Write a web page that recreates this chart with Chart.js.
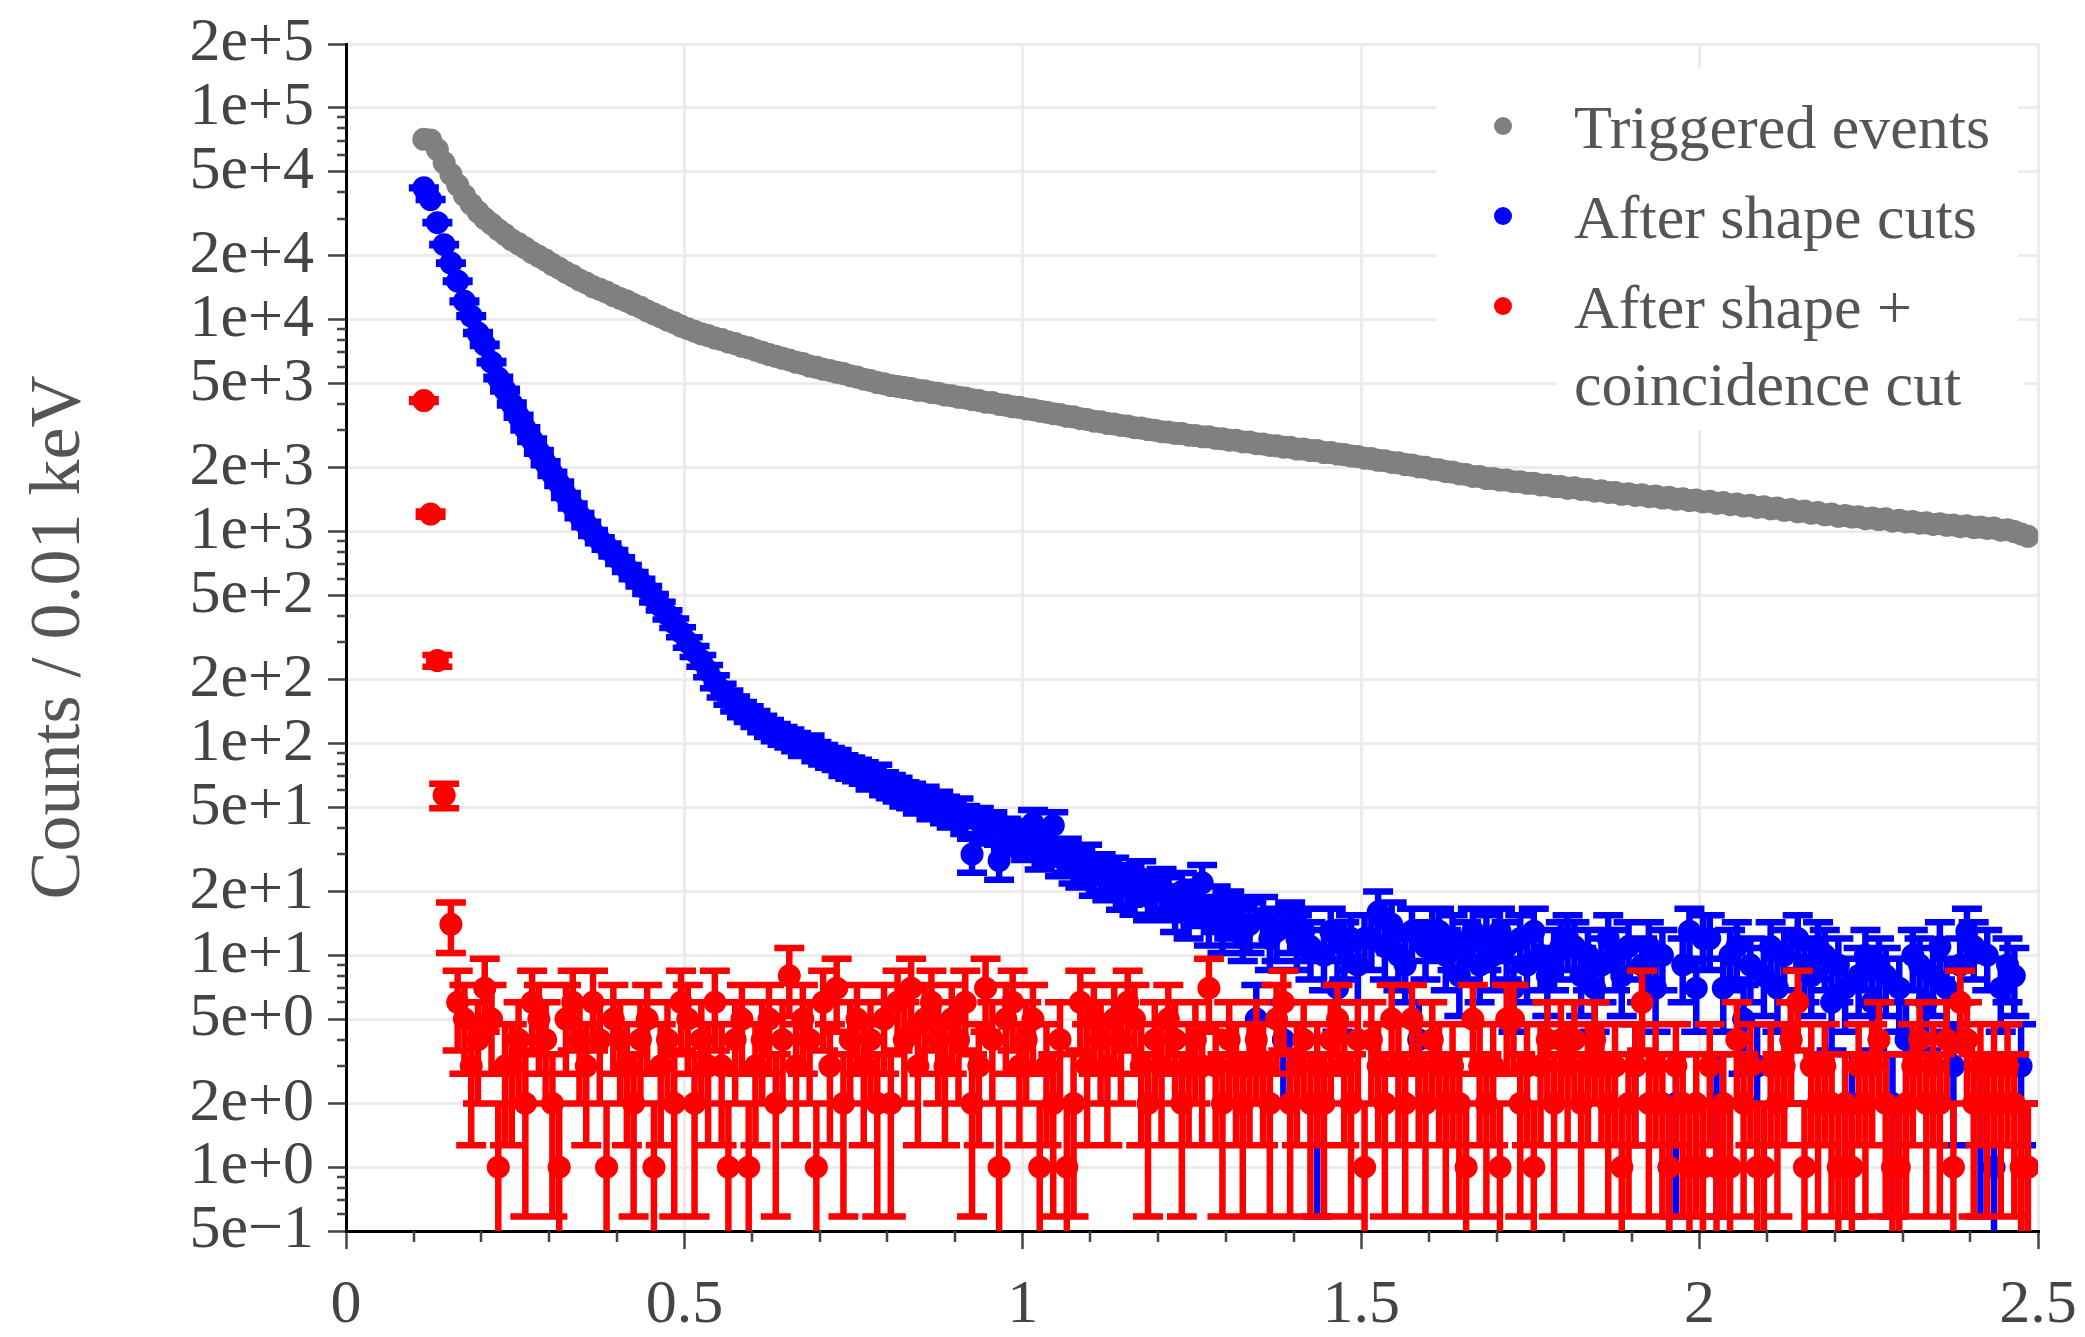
<!DOCTYPE html>
<html>
<head>
<meta charset="utf-8">
<script src="https://cdn.jsdelivr.net/npm/chart.js@4.4.1/dist/chart.umd.min.js"></script>
<style>
  html, body { margin: 0; padding: 0; background: #fff; }
  canvas { display: block; }
</style>
</head>
<body>
<canvas id="espectro" width="2085" height="1337"></canvas>
<script>
// counts per 0.01 keV bin, first bin centred at 0.115 keV
const binStart = 0.115;
const binWidth = 0.01;

const triggered = [
  71000, 70500, 63500, 55000, 48500, 43200, 38600, 35100, 32300, 30000,
  28300, 26600, 25200, 23800, 22800, 21800, 20700, 19900, 19100, 18200,
  17500, 16700, 16100, 15400, 14900, 14300, 13900, 13500, 13000, 12600,
  12250, 11800, 11450, 11000, 10650, 10300, 9950, 9680, 9330, 9070,
  8820, 8580, 8420, 8190, 8060, 7840, 7710, 7490, 7370, 7180,
  7010, 6840, 6720, 6570, 6460, 6290, 6210, 6040, 5960, 5830,
  5760, 5640, 5570, 5440, 5360, 5240, 5170, 5050, 4990, 4890,
  4840, 4780, 4730, 4640, 4620, 4530, 4500, 4410, 4380, 4300,
  4270, 4190, 4160, 4080, 4060, 3980, 3950, 3880, 3860, 3790,
  3760, 3700, 3660, 3600, 3570, 3500, 3480, 3410, 3380, 3320,
  3300, 3240, 3220, 3170, 3150, 3090, 3080, 3030, 3010, 2960,
  2950, 2910, 2900, 2850, 2840, 2800, 2800, 2750, 2740, 2700,
  2700, 2650, 2650, 2600, 2590, 2550, 2540, 2500, 2500, 2450,
  2450, 2410, 2410, 2360, 2360, 2320, 2310, 2270, 2260, 2220,
  2210, 2170, 2160, 2120, 2110, 2070, 2060, 2020, 2010, 1970,
  1960, 1920, 1910, 1870, 1860, 1820, 1820, 1780, 1780, 1750,
  1750, 1720, 1720, 1690, 1690, 1660, 1660, 1630, 1630, 1600,
  1610, 1580, 1580, 1550, 1560, 1530, 1530, 1500, 1510, 1480,
  1490, 1460, 1470, 1440, 1450, 1420, 1430, 1400, 1410, 1380,
  1390, 1360, 1370, 1340, 1350, 1320, 1330, 1300, 1310, 1280,
  1290, 1260, 1270, 1240, 1250, 1220, 1230, 1200, 1210, 1180,
  1190, 1170, 1175, 1150, 1160, 1140, 1150, 1120, 1130, 1110,
  1115, 1095, 1100, 1080, 1090, 1070, 1075, 1055, 1065, 1045,
  1050, 1035, 1040, 1015, 1020, 1000, 975, 950
];

const shapeCut = [
  41900, 36900, 28700, 22600, 18500, 15200, 12200, 10400, 8650, 7600,
  6300, 5300, 4650, 4000, 3500, 3050, 2700, 2380, 2100, 1870,
  1680, 1480, 1320, 1190, 1080, 985, 910, 850, 790, 730,
  670, 620, 575, 530, 485, 445, 405, 370, 335, 300,
  272, 246, 220, 196, 178, 165, 154, 145, 138, 131,
  124, 118, 113, 109, 106, 102, 97, 99, 92, 89,
  86, 84, 79, 77, 75, 73, 69, 71, 65, 63,
  61, 58, 57, 54, 55, 51, 52, 49, 47, 48,
  44, 30, 43, 40, 41, 28, 38, 36, 37, 34,
  42, 31, 33, 41, 29, 30, 27, 26, 28, 24,
  25, 23, 24, 21, 22, 20, 23, 19, 20, 21,
  19, 17, 20, 16, 18, 22, 15, 17, 14, 16,
  15, 13, 14, 5, 15, 12, 13, 4, 14, 12,
  13, 11, 2, 10, 13, 7, 11, 12, 9, 12,
  12, 16, 11, 14, 10, 9, 13, 4, 11, 13,
  13, 10, 12, 8, 11, 13, 9, 12, 10, 13,
  11, 7, 12, 9, 13, 10, 8, 10, 11, 12,
  11, 8, 10, 7, 9, 12, 10, 8, 11, 3,
  9, 11, 7, 10, 1, 2, 9, 13, 7, 12,
  12, 2, 7, 10, 11, 5, 9, 3, 8, 11,
  7, 10, 4, 12, 9, 8, 11, 10, 6, 9,
  7, 2, 8, 10, 6, 9, 8, 2, 7, 4,
  10, 9, 6, 8, 11, 7, 3, 9, 13, 11,
  2, 10, 1, 7, 9, 8, 3, 1
];

const coincidenceCut = [
  4150, 1210, 246, 57, 14, 6, 5, 3, 4, 7,
  5, 1, 3, 3, 4, 2, 6, 5, 4, 2,
  1, 5, 6, 4, 3, 6, 4, 1, 5, 4,
  3, 2, 4, 5, 1, 3, 4, 2, 6, 5,
  2, 4, 3, 6, 3, 1, 4, 5, 1, 3,
  4, 5, 2, 4, 8, 3, 5, 4, 1, 6,
  3, 7, 2, 4, 5, 3, 4, 2, 5, 2,
  6, 4, 7, 3, 5, 6, 4, 3, 5, 4,
  6, 2, 3, 7, 4, 1, 5, 6, 3, 4,
  5, 1, 3, 2, 4, 1, 2, 6, 3, 5,
  4, 3, 5, 4, 6, 5, 3, 2, 4, 3,
  5, 4, 2, 3, 4, 3, 7, 3, 2, 4,
  3, 2, 3, 4, 3, 2, 5, 6, 2, 3,
  4, 2, 3, 2, 4, 5, 3, 2, 4, 1,
  4, 3, 2, 5, 3, 2, 5, 3, 2, 4,
  3, 2, 3, 2, 1, 5, 3, 2, 3, 1,
  5, 5, 2, 3, 1, 3, 4, 2, 4, 3,
  4, 2, 3, 4, 3, 2, 3, 1, 2, 3,
  6, 2, 3, 2, 1, 3, 2, 1, 2, 1,
  3, 1, 2, 1, 4, 2, 3, 1, 1, 3,
  2, 3, 4, 6, 1, 3, 2, 3, 2, 1,
  2, 1, 3, 2, 3, 4, 2, 1, 1, 2,
  3, 4, 2, 3, 2, 4, 1, 6, 4, 2,
  3, 2, 3, 2, 3, 2, 1, 1
];

const xTicks = [0, 0.5, 1, 1.5, 2, 2.5];
const xTickLabels = ['0', '0.5', '1', '1.5', '2', '2.5'];
const yTicks = [0.5, 1, 2, 5, 10, 20, 50, 100, 200, 500, 1e3, 2e3, 5e3, 1e4, 2e4, 5e4, 1e5, 2e5];
const yTickLabels = ['5e\u22121', '1e+0', '2e+0', '5e+0', '1e+1', '2e+1', '5e+1', '1e+2', '2e+2', '5e+2',
  '1e+3', '2e+3', '5e+3', '1e+4', '2e+4', '5e+4', '1e+5', '2e+5'];

const energia = triggered.map((_, i) => +(binStart + binWidth * i).toFixed(3));
const puntos = serie => serie.map((v, i) => ({ x: energia[i], y: v }));

const serif = "'Liberation Serif', 'Times New Roman', serif";

// Poisson error bars, drawn under the markers of each dataset
const barrasError = {
  id: 'barrasError',
  beforeDatasetDraw(chart, args) {
    const ds = chart.data.datasets[args.index];
    if (!ds.errorBars) return;
    const { ctx, chartArea } = chart;
    const sx = chart.scales.x, sy = chart.scales.y;
    ctx.save();
    ctx.beginPath();
    ctx.rect(chartArea.left, chartArea.top, chartArea.right - chartArea.left, chartArea.bottom - chartArea.top);
    ctx.clip();
    ctx.strokeStyle = ds.borderColor;
    ctx.lineWidth = 6.5;
    ctx.beginPath();
    ds.data.forEach(p => {
      const err = Math.sqrt(p.y);
      const px = sx.getPixelForValue(p.x);
      const top = sy.getPixelForValue(p.y + err);
      const lo = p.y - err;
      const bottom = lo > 0 ? sy.getPixelForValue(lo) : chartArea.bottom + 10;
      ctx.moveTo(px, top);
      ctx.lineTo(px, bottom);
      ctx.moveTo(px - 15, top);
      ctx.lineTo(px + 15, top);
      if (lo > 0) {
        ctx.moveTo(px - 15, bottom);
        ctx.lineTo(px + 15, bottom);
      }
    });
    ctx.stroke();
    ctx.restore();
  }
};

const ticksMenores = {
  id: 'ticksMenores',
  afterDraw(chart) {
    const { ctx, chartArea, scales } = chart;
    ctx.save();
    ctx.strokeStyle = '#444';
    ctx.lineWidth = 2.5;
    ctx.beginPath();
    for (let d = -1; d <= 5; d++) {
      for (const m of [3, 4, 6, 7, 8, 9]) {
        const v = m * Math.pow(10, d);
        if (v < 0.5 || v > 2e5) continue;
        const py = Math.round(scales.y.getPixelForValue(v));
        ctx.moveTo(chartArea.left - 9, py);
        ctx.lineTo(chartArea.left, py);
      }
    }
    for (let k = 1; k < 25; k++) {
      if (k % 5 === 0) continue;
      const px = Math.round(scales.x.getPixelForValue(k / 10));
      ctx.moveTo(px, chartArea.bottom);
      ctx.lineTo(px, chartArea.bottom + 11);
    }
    ctx.stroke();
    ctx.restore();
  }
};

const leyenda = {
  id: 'leyenda',
  afterDraw(chart) {
    const ctx = chart.ctx;
    ctx.save();
    ctx.fillStyle = '#fff';
    ctx.fillRect(1436, 68, 582, 286);
    ctx.fillRect(1556, 354, 468, 76);
    ctx.font = '62px ' + serif;
    ctx.textBaseline = 'alphabetic';
    ctx.textAlign = 'left';
    let base = 148;
    [0, 1, 2].forEach(idx => {
      const ds = chart.data.datasets[idx];
      const lines = [].concat(ds.label);
      ctx.fillStyle = ds.backgroundColor;
      ctx.beginPath();
      ctx.arc(1503, base - 22, 9, 0, 2 * Math.PI);
      ctx.fill();
      ctx.fillStyle = '#555';
      lines.forEach((t, k) => ctx.fillText(t, 1574, base + k * 77));
      base += 90;
    });
    ctx.restore();
  }
};

new Chart(document.getElementById('espectro').getContext('2d'), {
  type: 'scatter',
  data: {
    datasets: [
      {
        label: 'Triggered events',
        data: puntos(triggered),
        backgroundColor: '#808080',
        borderColor: '#808080',
        pointRadius: 11.5,
        pointBorderWidth: 0,
        errorBars: false,
        order: 3
      },
      {
        label: 'After shape cuts',
        data: puntos(shapeCut),
        backgroundColor: '#0000ff',
        borderColor: '#0000ff',
        pointRadius: 11.5,
        pointBorderWidth: 0,
        errorBars: true,
        order: 2
      },
      {
        label: ['After shape +', 'coincidence cut'],
        data: puntos(coincidenceCut),
        backgroundColor: '#ff0000',
        borderColor: '#ff0000',
        pointRadius: 11.5,
        pointBorderWidth: 0,
        errorBars: true,
        order: 1
      }
    ]
  },
  options: {
    responsive: false,
    animation: false,
    devicePixelRatio: 1,
    events: [],
    layout: { padding: { top: 44, right: 47, left: 0, bottom: 0 } },
    plugins: {
      legend: { display: false },
      tooltip: { enabled: false }
    },
    scales: {
      x: {
        type: 'linear',
        min: 0,
        max: 2.5,
        afterBuildTicks: scale => { scale.ticks = xTicks.map(v => ({ value: v })); },
        afterFit: scale => {
          scale.height = 106;
          scale.paddingLeft = 0;
          scale.paddingRight = 0;
        },
        ticks: {
          callback: (v, i) => xTickLabels[i],
          font: { family: serif, size: 62 },
          color: '#444',
          padding: 20,
          maxRotation: 0,
          autoSkip: false
        },
        grid: { color: '#ececec', lineWidth: 3, tickLength: 18, tickColor: '#444', tickWidth: 2.5 },
        border: { display: true, color: '#000', width: 3 }
      },
      y: {
        type: 'logarithmic',
        min: 0.5,
        max: 2e5,
        afterBuildTicks: scale => { scale.ticks = yTicks.map(v => ({ value: v })); },
        afterFit: scale => {
          scale.width = 346;
          scale.paddingTop = 0;
          scale.paddingBottom = 0;
        },
        ticks: {
          callback: (v, i) => yTickLabels[i],
          font: { family: serif, size: 62 },
          color: '#444',
          padding: 14,
          autoSkip: false
        },
        grid: { color: '#ececec', lineWidth: 3, tickLength: 18, tickColor: '#444', tickWidth: 2.5 },
        border: { display: true, color: '#000', width: 3 },
        title: {
          display: true,
          text: 'Counts / 0.01 keV',
          font: { family: serif, size: 72 },
          color: '#555',
          padding: { top: 17, bottom: 0 }
        }
      }
    }
  },
  plugins: [barrasError, ticksMenores, leyenda]
});
</script>
</body>
</html>
